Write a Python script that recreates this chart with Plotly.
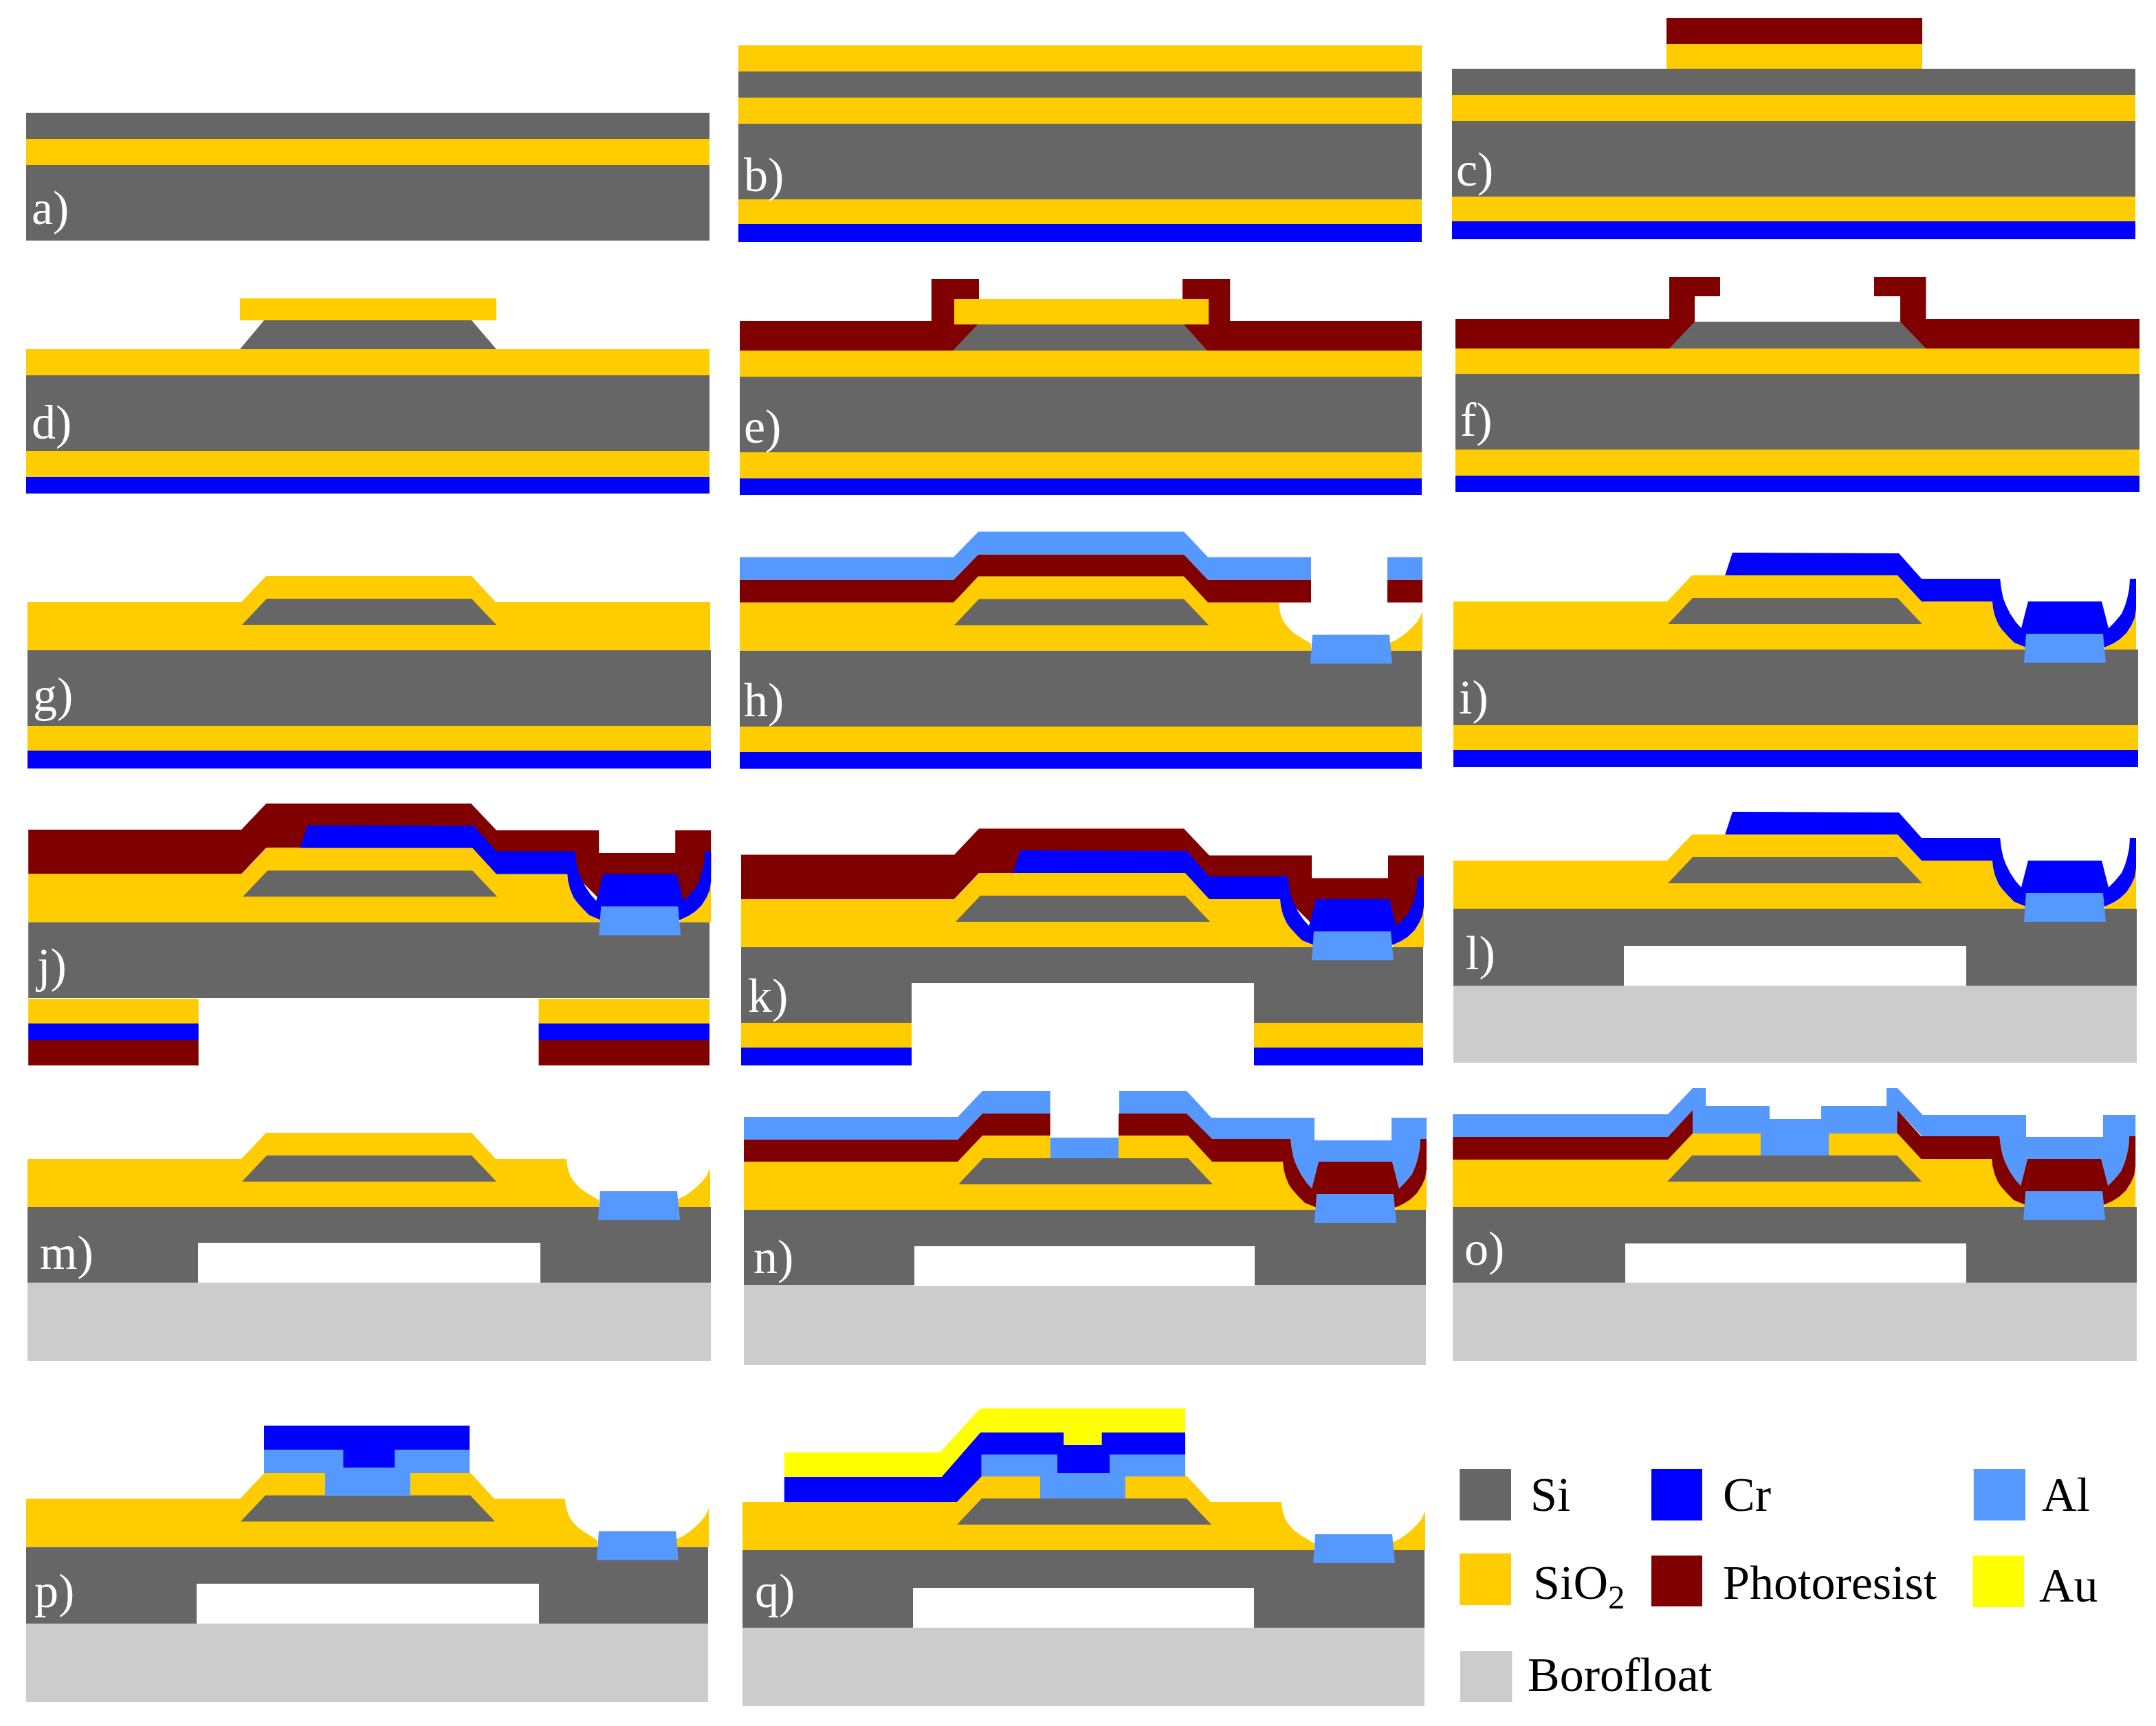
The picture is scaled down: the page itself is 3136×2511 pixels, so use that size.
import plotly.graph_objects as go

# ---------- materials ----------
MATERIALS = ["Si", "SiO2", "Cr", "PR", "Al", "Au", "Boro", "Void"]
COLOURS = ["#666666", "#FFCC00", "#0000FF", "#800000", "#5599FF", "#FFFF00", "#CCCCCC", "#FFFFFF"]
COL = dict(zip(MATERIALS, COLOURS))

# ---------- flat layer stacks: material, x0, x1, y0, y1 ----------
A_LAYERS = [("Si",19,516,82,101),("SiO2",19,516,101,120),("Si",19,516,120,175)]
B_LAYERS = [("SiO2",537,1034,33,52),("Si",537,1034,52,71),("SiO2",537,1034,71,90),("Si",537,1034,90,145),("SiO2",537,1034,145,163),("Cr",537,1034,163,176)]
C_LAYERS = [("PR",1212,1398,13,32),("SiO2",1212,1398,32,50),("Si",1056,1553,50,69),("SiO2",1056,1553,69,88),("Si",1056,1553,88,143),("SiO2",1056,1553,143,161),("Cr",1056,1553,161,174)]
D_LAYERS = [("SiO2",19,516,254,273),("Si",19,516,273,328),("SiO2",19,516,328,347),("Cr",19,516,347,359),("SiO2",174.5,361,217,233)]
E_LAYERS = [("SiO2",538,1034,255,274),("Si",538,1034,274,329),("SiO2",538,1034,329,348),("Cr",538,1034,348,360)]
F_LAYERS = [("SiO2",1058.5,1556,253.5,272),("Si",1058.5,1556,272,327),("SiO2",1058.5,1556,327,346),("Cr",1058.5,1556,346,358)]
G_LAYERS = [("Si",20,517,473,528),("SiO2",20,517,528,546),("Cr",20,517,546,559)]
H_LAYERS = [("Si",538,1034,473.3,528.5),("SiO2",538,1034,528.5,547),("Cr",538,1034,547,559.3)]
I_LAYERS = [("Si",1057,1555,472.5,527.5),("SiO2",1057,1555,527.5,545.5),("Cr",1057,1555,545.5,558)]
J_LAYERS = [("Si",20.6,516,670.8,726),("SiO2",20.6,144.4,726.5,744.5),("Cr",20.6,144.4,744.5,756.5),("PR",20.6,144.4,756.5,775),("SiO2",391.8,516,726.5,744.5),("Cr",391.8,516,744.5,756.5),("PR",391.8,516,756.5,775)]
K_LAYERS = [("Si",539,1035,689,744),("Void",663,912,715,744),("SiO2",539,663,744,762),("Cr",539,663,762,775),("SiO2",912,1035,744,762),("Cr",912,1035,762,775)]
L_LAYERS = [("Si",1057,1554,661,717),("Void",1181,1430,688,717),("Boro",1057,1554,717,773)]
M_LAYERS = [("Si",20,517,878,933),("Void",144,393,904,933),("Boro",20,517,933,990)]
N_LAYERS = [("Si",541,1037,880,935),("Void",665,912.5,906.5,935),("Boro",541,1037,935.5,993)]
O_LAYERS = [("Si",1056.6,1554,878,933),("Void",1182,1430,904.5,933),("Boro",1056.6,1554,933,990)]
P_LAYERS = [("Si",19,515,1125.3,1181),("Void",143,392,1152,1181),("Boro",19,515,1181,1238)]
Q_LAYERS = [("Si",540,1036,1127.5,1184),("Void",664,912,1155,1184),("Boro",540,1036,1184,1241)]

# ---------- shared outlines, relative to a panel's left edge and Si top ----------
W = 496.5
TRAPEZOID = [(174,-37.5),(323,-37.5),(341,-18.5),(156,-18.5)]
PAD = [(416.5,-11.5),(472.5,-11.5),(474.5,9.5),(415,9.5)]
# bare etched bowl
BARE_L = [(392,-35),(392.5,-30),(393.4,-26.6),(395,-22),(397.6,-18.3),(401.5,-14),(406,-10.8),(415.5,-5)]
BARE_R = [(471,-5),(477,-7.5),(482,-10.8),(486.5,-14.5),(490.3,-18.3),(493.5,-22),(W,-28)]
# bowl holding a deposited liner
DEEP_L = [(392,-35),(392.5,-30),(394,-24),(396.5,-18),(399,-14.5),(403.5,-9.5),(408,-5),(416,-1.7)]
DEEP_R = [(474,-1.7),(480,-4.5),(484.7,-7.5),(489.5,-12),(493,-17.5),(495.5,-23),(W,-29.5)]
BOWL_IN_L = [(397.6,-51.5),(398.5,-44),(400,-37),(402,-32),(405,-26),(409,-20),(413,-15.5)]
PLATEAU = [(418,-35),(471.5,-35)]
BOWL_IN_R = [(476.5,-15.5),(481,-20),(486,-26),(488.5,-32),(490,-37),(491.5,-44),(492,-51.5)]

# ---------- panel anchors ----------
PANEL_NAMES = ["g","h","i","j","k","l","m","n","o","p","q"]
PANEL_LEFT = [20,538,1057,20.6,539,1057,20,541,1056.6,19,540]
PANEL_SI_TOP = [473,473.3,472.5,670.8,689,661,878,880,878,1125.3,1127.5]
ANCHOR = {n:(l,t) for n,l,t in zip(PANEL_NAMES,PANEL_LEFT,PANEL_SI_TOP)}

# ---------- panel labels ----------
LABELS = ["a)","b)","c)","d)","e)","f)","g)","h)","i)","j)","k)","l)","m)","n)","o)","p)","q)"]
LABEL_X = [23,541,1059,23,541,1062,24,541,1061,27,544,1066,29,548,1065,25,549]
LABEL_Y = [154,130,126,310,313,308,508,512,510,705,727,696,914,917,911,1160,1160]

# ---------- legend ----------
LEGEND_NAMES = ["Si","Cr","Al","SiO<sub>2</sub>","Photoresist","Au","Borofloat"]
LEGEND_MATERIAL = ["Si","Cr","Al","SiO2","PR","Au","Boro"]
LEGEND_X0 = [1061.6,1201,1435.4,1061.6,1201,1434.8,1062]
LEGEND_X1 = [1099,1238,1473,1099,1238,1472,1099.7]
LEGEND_Y0 = [1068.5,1068.5,1068.5,1130,1131.5,1131.5,1201]
LEGEND_Y1 = [1106,1106,1106,1167.5,1168.5,1169,1238]
LEGEND_TEXT_X = [1113,1253,1485,1115,1253,1483,1111]
LEGEND_TEXT_Y = [1090,1090,1090,1154,1154,1156,1221]

fig = go.Figure()

def poly(pts, mat):
    xs = [p[0] for p in pts] + [pts[0][0]]
    ys = [p[1] for p in pts] + [pts[0][1]]
    fig.add_trace(go.Scatter(x=xs, y=ys, mode="lines", fill="toself", fillcolor=COL[mat],
                             line=dict(width=0), hoverinfo="skip", showlegend=False))

def rects(layers):
    for m,x0,x1,y0,y1 in layers:
        poly([(x0,y0),(x1,y0),(x1,y1),(x0,y1)], m)

def local(name, mat, pts):
    l,t = ANCHOR[name]
    poly([(x+l,y+t) for x,y in pts], mat)

def sio2(window=None, bowl=True, deep=False):
    pts = [(0,0),(0,-35),(155.5,-35),(173.5,-54)]
    if window:
        pts += [(window[0],-54),(window[0],-37.5),(window[1],-37.5),(window[1],-54)]
    pts += [(323,-54),(340.5,-35)]
    if bowl:
        left, right = (DEEP_L, DEEP_R) if deep else (BARE_L, BARE_R)
        pts += left + [(left[-1][0],0),(right[0][0],0)] + right
    else:
        pts += [(W,-35)]
    pts += [(W,0)]
    return pts

def liner(start):
    return (start + [(340.5,-51.5)] + BOWL_IN_L + PLATEAU + BOWL_IN_R + [(W,-51.5)]
            + DEEP_R[::-1] + DEEP_L[::-1] + [(340.5,-35),(323,-54)])

def inner_rev():
    return BOWL_IN_R[::-1] + PLATEAU[::-1] + BOWL_IN_L[::-1]

CR_START = [(197.6,-54),(203,-70.5),(324,-70)]

for lay in [A_LAYERS,B_LAYERS,C_LAYERS,D_LAYERS,E_LAYERS,F_LAYERS,G_LAYERS,H_LAYERS,I_LAYERS,J_LAYERS,K_LAYERS,L_LAYERS,M_LAYERS,N_LAYERS,O_LAYERS,P_LAYERS,Q_LAYERS]:
    rects(lay)

# d) e) f) mesa and resist
poly([(192,233),(343,233),(361,254),(174.5,254)], "Si")
poly([(538,233.5),(677.4,233.5),(677.4,203),(712,203),(712,236),(860,236),(860,203),(894.6,203),(894.6,233.5),(1034,233.5),(1034,255),(538,255)], "PR")
poly([(711,236),(861,236),(878,255),(693,255)], "Si")
poly([(694,217.5),(879,217.5),(879,236),(694,236)], "SiO2")
poly([(1058.5,232),(1214,232),(1214,201.5),(1251,201.5),(1251,215.5),(1232.5,215.5),(1232.5,234),(1382,234),(1382,215.5),(1363,215.5),(1363,201.5),(1400.7,201.5),(1400.7,232),(1556,232),(1556,253.5),(1058.5,253.5)], "PR")
poly([(1232.5,234),(1382,234),(1400.7,253.5),(1214,253.5)], "Si")

# g)
local("g","SiO2",sio2(bowl=False)); local("g","Si",TRAPEZOID)

# h)
local("h","SiO2",sio2()); local("h","Si",TRAPEZOID); local("h","Al",PAD)
local("h","PR",[(0,-51.5),(155.5,-51.5),(173.5,-70),(323,-70),(340.5,-51.5),(415.5,-51.5),(415.5,-35),(340.5,-35),(323,-54),(173.5,-54),(155.5,-35),(0,-35)])
local("h","PR",[(471,-51.5),(W,-51.5),(W,-35),(471,-35)])
local("h","Al",[(0,-68),(155.5,-68),(173.5,-86.5),(323,-86.5),(340.5,-68),(415.5,-68),(415.5,-51.5),(340.5,-51.5),(323,-70),(173.5,-70),(155.5,-51.5),(0,-51.5)])
local("h","Al",[(471,-68),(W,-68),(W,-51.5),(471,-51.5)])

# i)
local("i","SiO2",sio2(deep=True)); local("i","Si",TRAPEZOID)
local("i","Cr",liner(CR_START)); local("i","Al",PAD)

# j) and k): resist over the chromium
RESIST_J = [(0,-67.3),(155,-67.3),(173,-86.3),(322,-86.3),(340.5,-66.8),(415,-66.8),(415,-50.3),(470.5,-50.3),(470.5,-66.8),(W,-66.8),(W,-35),(476,-14),(418,-14),(397,-35),(340,-35),(323,-54),(173,-54),(155,-35),(0,-35)]
for n in ["j","k"]:
    local(n,"PR",RESIST_J)
    local(n,"SiO2",sio2(deep=True)); local(n,"Si",TRAPEZOID)
    local(n,"Cr",liner(CR_START)); local(n,"Al",PAD)

# l)
local("l","SiO2",sio2(deep=True)); local("l","Si",TRAPEZOID)
local("l","Cr",liner(CR_START)); local("l","Al",PAD)

# m)
local("m","SiO2",sio2()); local("m","Si",TRAPEZOID); local("m","Al",PAD)

# n)
local("n","SiO2",sio2(window=(222.8,272.5),deep=True)); local("n","Si",TRAPEZOID)
local("n","Al",[(222.8,-52.5),(272.5,-52.5),(272.5,-37.5),(222.8,-37.5)])
local("n","Al",[(0,-67.5),(155.5,-67.5),(173.5,-86.5),(222.8,-86.5),(222.8,-70),(173.5,-70),(155.5,-51),(0,-51)])
local("n","Al",[(273,-86.5),(322,-86.5),(340,-67),(415,-67),(415,-50.5),(471,-50.5),(471,-67),(W,-67),(W,-51.5)]+inner_rev()+[(340.5,-51),(322,-70),(273,-70)])
local("n","PR",[(0,-51),(155.5,-51),(173.5,-70),(222.8,-70),(222.8,-54),(173.5,-54),(155.5,-35),(0,-35)])
local("n","PR",liner([(272.5,-54),(272.5,-70),(322,-70)]))
local("n","Al",PAD)

# o)
local("o","SiO2",sio2(window=(223.9,273.4),deep=True)); local("o","Si",TRAPEZOID)
local("o","Al",[(0,-67.5),(156.4,-67.5),(174.4,-86.5),(184,-86.5),(184,-73.5),(230.4,-73.5),(230.4,-64),(267.9,-64),(267.9,-73.5),(315.4,-73.5),(315.4,-86.5),(323.4,-86.5),(341.7,-67),(416.9,-67),(416.9,-51),(472.9,-51),(472.9,-67),(W,-67),(W,-51.5)]+inner_rev()+[(341.7,-51),(323.4,-70.5),(323.4,-53.5),(273.4,-53.5),(273.4,-37.5),(223.9,-37.5),(223.9,-53.5),(174.4,-53.5),(174.4,-70.5),(156.4,-51),(0,-51)])
local("o","PR",[(0,-51),(156.4,-51),(174.4,-70.5),(174.4,-53.5),(156.4,-34.5),(0,-34.5)])
local("o","PR",liner([(323.4,-70.5)]))
local("o","Al",PAD)

# p)
local("p","SiO2",sio2(window=(217.5,279.4))); local("p","Si",TRAPEZOID); local("p","Al",PAD)
local("p","Al",[(173,-70.8),(322.5,-70.8),(322.5,-53.8),(279.4,-53.8),(279.4,-37.3),(217.5,-37.3),(217.5,-53.8),(173,-53.8)])
local("p","Cr",[(173,-88.3),(322.5,-88.3),(322.5,-70.8),(268,-70.8),(268,-57.8),(230.7,-57.8),(230.7,-70.8),(173,-70.8)])

# q)
local("q","SiO2",sio2(window=(216.5,278.4))); local("q","Si",TRAPEZOID); local("q","Al",PAD)
local("q","Al",[(173.8,-69.5),(322,-69.5),(322,-53.5),(278.4,-53.5),(278.4,-37.5),(216.5,-37.5),(216.5,-53.5),(173.8,-53.5)])
local("q","Cr",[(30.4,-53),(144.6,-53),(173,-85.5),(233.7,-85.5),(233.7,-76.5),(261.2,-76.5),(261.2,-85.5),(322,-85.5),(322,-69.5),(267,-69.5),(267,-56),(229,-56),(229,-69.5),(173.8,-69.5),(173.8,-53.5),(156,-35),(30.4,-35)])
local("q","Au",[(30.4,-71),(143.6,-71),(173,-103),(322,-103),(322,-85.5),(261.2,-85.5),(261.2,-76.5),(233.7,-76.5),(233.7,-85.5),(173,-85.5),(144.6,-53),(30.4,-53)])

# legend swatches
for m,x0,x1,y0,y1 in zip(LEGEND_MATERIAL,LEGEND_X0,LEGEND_X1,LEGEND_Y0,LEGEND_Y1):
    poly([(x0,y0),(x1,y0),(x1,y1),(x0,y1)], m)

FONT = "Liberation Serif"
fig.add_trace(go.Scatter(x=LABEL_X, y=LABEL_Y, text=LABELS, mode="text", textposition="middle right",
                         textfont=dict(family=FONT, size=70, color="white"), hoverinfo="skip", showlegend=False))
fig.add_trace(go.Scatter(x=LEGEND_TEXT_X, y=LEGEND_TEXT_Y, text=LEGEND_NAMES, mode="text", textposition="middle right",
                         textfont=dict(family=FONT, size=70, color="black"), hoverinfo="skip", showlegend=False))

fig.update_layout(width=3136, height=2511, margin=dict(l=0,r=0,t=0,b=0),
                  paper_bgcolor="white", plot_bgcolor="white",
                  xaxis=dict(range=[0,1568], visible=False, fixedrange=True),
                  yaxis=dict(range=[1255.5,0], visible=False, fixedrange=True))
fig.write_html("out.html", config={"displayModeBar": False}, post_script="document.body.style.margin='0';")
